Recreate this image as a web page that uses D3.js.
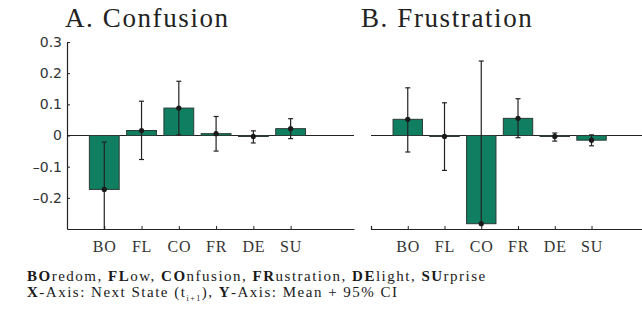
<!DOCTYPE html>
<html>
<head>
<meta charset="utf-8">
<script src="https://cdn.jsdelivr.net/npm/d3@7"></script>
<style>
    body { margin: 0; background: #fff; }
    svg { display: block; }
</style>
</head>
<body>
<div id="chart"></div>
<script>
(function() {
    var width = 642,
        height = 311;
    var serif = "'Liberation Serif', 'Times New Roman', serif";

    // states on the x axis
    var categories = ["BO", "FL", "CO", "FR", "DE", "SU"];

    // A. Confusion: mean and 95% CI per next state
    var confusionMean  = [-0.173, 0.016, 0.088, 0.006, -0.003, 0.022];
    var confusionLower = [-0.300, -0.077, 0.002, -0.050, -0.024, -0.010];
    var confusionUpper = [-0.021, 0.110, 0.174, 0.061, 0.015, 0.054];

    // B. Frustration
    var frustrationMean  = [0.052, -0.003, -0.283, 0.055, -0.003, -0.015];
    var frustrationLower = [-0.053, -0.112, -0.283, -0.007, -0.018, -0.033];
    var frustrationUpper = [0.153, 0.105, 0.239, 0.118, 0.008, 0.002];

    var yTicks = [0.3, 0.2, 0.1, 0, -0.1, -0.2];

    var panels = [
        { title: "A. Confusion", mean: confusionMean, lower: confusionLower, upper: confusionUpper,
          x0: 67, x1: 354, titleX: 65, showY: true },
        { title: "B. Frustration", mean: frustrationMean, lower: frustrationLower, upper: frustrationUpper,
          x0: 371, x1: 654, titleX: 361, showY: false }
    ];

    var yScale = d3.scaleLinear()
        .domain([-0.3, 0.3])
        .range([229, 42]);

    var svg = d3.select("#chart").append("svg")
        .attr("width", width)
        .attr("height", height);

    var fmt = function(d) {
        if (d === 0) return "0";
        return (d < 0 ? "\u2013" : "") + d3.format(".1f")(Math.abs(d));
    };

    panels.forEach(function(p) {
        var xScale = d3.scaleLinear()
            .domain([0, 7.7])
            .range([p.x0, p.x1]);

        var g = svg.append("g");

        var rows = categories.map(function(c, i) {
            return { cat: c, pos: i + 1, mean: p.mean[i], lower: p.lower[i], upper: p.upper[i] };
        });

        g.append("text")
            .attr("x", p.titleX)
            .attr("y", 27)
            .style("font-family", serif)
            .style("font-size", "27px")
            .style("letter-spacing", "1.6px")
            .style("fill", "#222")
            .text(p.title);

        // zero line
        g.append("line")
            .attr("x1", xScale(0)).attr("x2", xScale(7.7))
            .attr("y1", yScale(0)).attr("y2", yScale(0))
            .attr("stroke", "#222")
            .attr("stroke-width", 1.2);

        // bars
        g.selectAll("rect.bar")
            .data(rows)
            .enter().append("rect")
            .attr("class", "bar")
            .attr("x", function(d) { return xScale(d.pos - 0.4); })
            .attr("width", function(d) { return xScale(d.pos + 0.4) - xScale(d.pos - 0.4); })
            .attr("y", function(d) { return yScale(Math.max(0, d.mean)); })
            .attr("height", function(d) { return Math.max(1, Math.abs(yScale(d.mean) - yScale(0))); })
            .attr("fill", "#0f7e61")
            .attr("stroke", "#2b3b35")
            .attr("stroke-width", 1);

        // error bars
        var err = g.selectAll("g.err")
            .data(rows)
            .enter().append("g")
            .attr("class", "err");

        err.append("line")
            .attr("x1", function(d) { return xScale(d.pos); })
            .attr("x2", function(d) { return xScale(d.pos); })
            .attr("y1", function(d) { return yScale(d.lower); })
            .attr("y2", function(d) { return yScale(d.upper); })
            .attr("stroke", "#222")
            .attr("stroke-width", 1.2);

        [function(d) { return d.lower; }, function(d) { return d.upper; }].forEach(function(acc) {
            err.filter(function(d) { return acc(d) > -0.3 && acc(d) !== d.mean; })
                .append("line")
                .attr("x1", function(d) { return xScale(d.pos) - 2.5; })
                .attr("x2", function(d) { return xScale(d.pos) + 2.5; })
                .attr("y1", function(d) { return yScale(acc(d)); })
                .attr("y2", function(d) { return yScale(acc(d)); })
                .attr("stroke", "#222")
                .attr("stroke-width", 1.2);
        });

        err.append("circle")
            .attr("cx", function(d) { return xScale(d.pos); })
            .attr("cy", function(d) { return yScale(d.mean); })
            .attr("r", 2.6)
            .attr("fill", "#1a1a1a");

        // x axis
        var xAxis = d3.axisBottom(xScale)
            .tickValues(rows.map(function(d) { return d.pos; }))
            .tickFormat(function(d) { return categories[d - 1]; })
            .tickSizeInner(-3)
            .tickSizeOuter(p.showY ? 0 : -3)
            .tickPadding(12);

        var xg = g.append("g")
            .attr("transform", "translate(0," + yScale(-0.3) + ")")
            .call(xAxis);
        xg.select(".domain").attr("stroke", "#222").attr("stroke-width", 1.2);
        xg.selectAll(".tick line").attr("stroke", "#222");
        xg.selectAll(".tick text")
            .style("font-family", serif)
            .style("font-size", "16px")
            .style("letter-spacing", "0.8px")
            .style("fill", "#333");

        if (p.showY) {
            var yAxis = d3.axisLeft(yScale)
                .tickValues(yTicks)
                .tickFormat(fmt)
                .tickSizeInner(-3)
                .tickSizeOuter(0)
                .tickPadding(5);

            var yg = g.append("g")
                .attr("transform", "translate(" + xScale(0) + ",0)")
                .call(yAxis);
            yg.select(".domain").attr("stroke", "#222").attr("stroke-width", 1.2);
            yg.selectAll(".tick line").attr("stroke", "#222");
            yg.selectAll(".tick text")
                .style("font-family", "'DejaVu Sans', sans-serif")
                .style("font-size", "14px")
                .style("fill", "#333");
        }
    });

    // footnote
    var note1 = [["BO", true], ["redom, ", false], ["FL", true], ["ow, ", false], ["CO", true],
                 ["nfusion, ", false], ["FR", true], ["ustration, ", false], ["DE", true],
                 ["light, ", false], ["SU", true], ["rprise", false]];

    var noteStyle = function(t) {
        t.style("font-family", serif)
            .style("font-size", "15px")
            .style("letter-spacing", "1.5px")
            .style("fill", "#1a1a1a");
    };

    var t1 = svg.append("text").attr("x", 27).attr("y", 281).call(noteStyle);
    note1.forEach(function(n) {
        t1.append("tspan").attr("font-weight", n[1] ? "bold" : null).text(n[0]);
    });

    var t2 = svg.append("text").attr("x", 27).attr("y", 297).call(noteStyle);
    t2.append("tspan").attr("font-weight", "bold").text("X");
    t2.append("tspan").text("-Axis: Next State (t");
    t2.append("tspan").attr("font-size", "8px").attr("dy", 4).text("i+1");
    t2.append("tspan").attr("dy", -4).text("), ");
    t2.append("tspan").attr("font-weight", "bold").text("Y");
    t2.append("tspan").text("-Axis: Mean + 95% CI");
})();
</script>
</body>
</html>
